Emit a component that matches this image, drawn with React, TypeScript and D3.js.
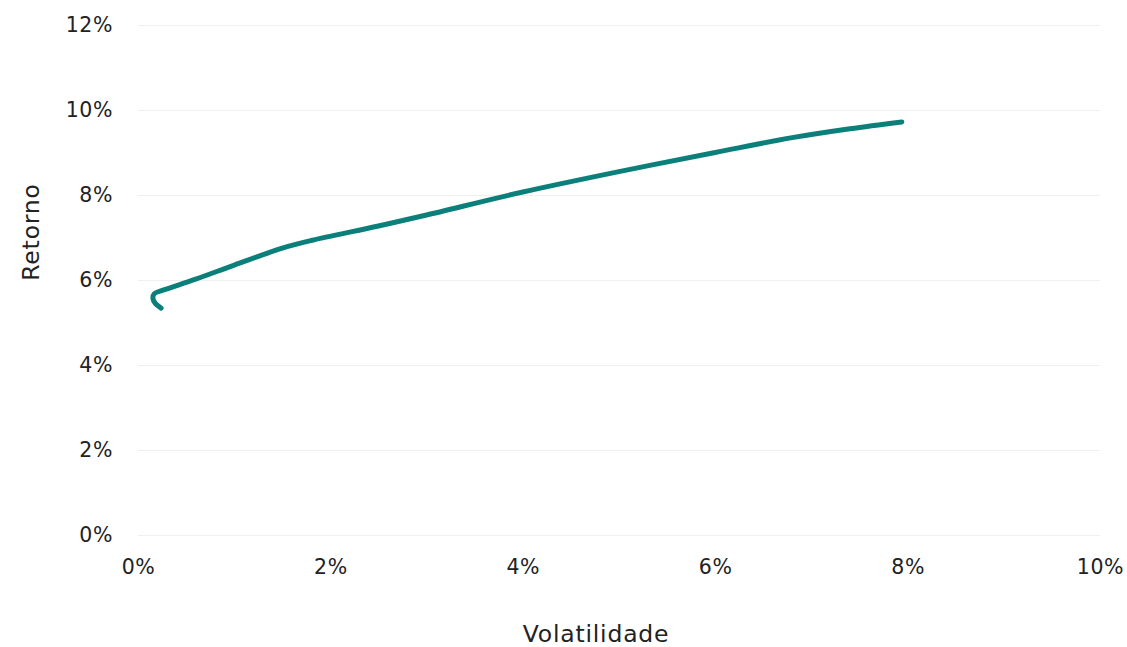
import React, {useEffect, useRef} from 'react';
import * as d3 from 'd3';

// efficient frontier (in %)
const volatility = [0.24, 0.18, 0.155, 0.17, 0.26, 0.6, 1.0, 1.5, 1.8, 2.5, 3.0, 4.0, 5.0, 6.0, 6.8, 7.4, 7.94];
const retorno = [5.34, 5.45, 5.57, 5.68, 5.76, 6.02, 6.35, 6.75, 6.93, 7.27, 7.53, 8.07, 8.55, 9.0, 9.35, 9.56, 9.72];

const xTicks = [0, 2, 4, 6, 8, 10];
const yTicks = [0, 2, 4, 6, 8, 10, 12];

const W = 1127;
const H = 647;
const margin = {t: 25, r: 27, b: 112, l: 138};

const FONT = '"DejaVu Sans", "Open Sans", sans-serif';

const tickStyle = {
	fontFamily: FONT,
	fontSize: '20.5px',
	letterSpacing: '0.6px',
	fill: '#222'
};

const titleStyle = {
	fontFamily: FONT,
	fontSize: '23.5px',
	letterSpacing: '0.8px',
	fill: '#222'
};

const App = () => {
	const axisX = useRef<SVGGElement>(null);
	const axisY = useRef<SVGGElement>(null);

	const innerW = W - margin.l - margin.r;
	const innerH = H - margin.t - margin.b;

	const scaleX = d3.scaleLinear().domain([0, 10]).range([0, innerW]);
	const scaleY = d3.scaleLinear().domain([0, 12]).range([innerH, 0]);

	const points = volatility.map((v, i) => ({v, r: retorno[i]}));
	const lineGenerator = d3.line<{v: number, r: number}>()
		.x(d => scaleX(d.v))
		.y(d => scaleY(d.r))
		.curve(d3.curveCatmullRom.alpha(0.5));

	useEffect(() => {
		//gridlines + labels for y
		const gy = d3.select(axisY.current)
			.call(d3.axisLeft(scaleY).tickValues(yTicks).tickSize(-innerW).tickPadding(25).tickFormat(d => d + '%'));
		gy.select('.domain').remove();
		gy.selectAll('line').style('stroke', '#efefef').style('stroke-width', '1px');
		gy.selectAll('text')
			.style('font-family', FONT).style('font-size', tickStyle.fontSize)
			.style('letter-spacing', tickStyle.letterSpacing).style('fill', '#222');

		const gx = d3.select(axisX.current)
			.call(d3.axisBottom(scaleX).tickValues(xTicks).tickSize(0).tickPadding(24).tickFormat(d => d + '%'));
		gx.select('.domain').remove();
		gx.selectAll('text')
			.style('font-family', FONT).style('font-size', tickStyle.fontSize)
			.style('letter-spacing', tickStyle.letterSpacing).style('fill', '#222');
	}, []);

	return (
		<svg width={W} height={H} style={{position: 'absolute', left: 0, top: 0, background: '#fff'}}>
			<g transform={`translate(${margin.l},${margin.t})`}>
				<g ref={axisY}/>
				<g ref={axisX} transform={`translate(0,${innerH})`}/>
				<path
					d={lineGenerator(points) || ''}
					fill='none'
					stroke='#0b807b'
					strokeWidth={5}
					strokeLinecap='round'
					strokeLinejoin='round'
				/>
			</g>
			<text style={titleStyle} x={596} y={642} textAnchor='middle'>Volatilidade</text>
			<text style={titleStyle} transform={`translate(39,232) rotate(-90)`} textAnchor='middle'>Retorno</text>
		</svg>
	);
};

export default App;
